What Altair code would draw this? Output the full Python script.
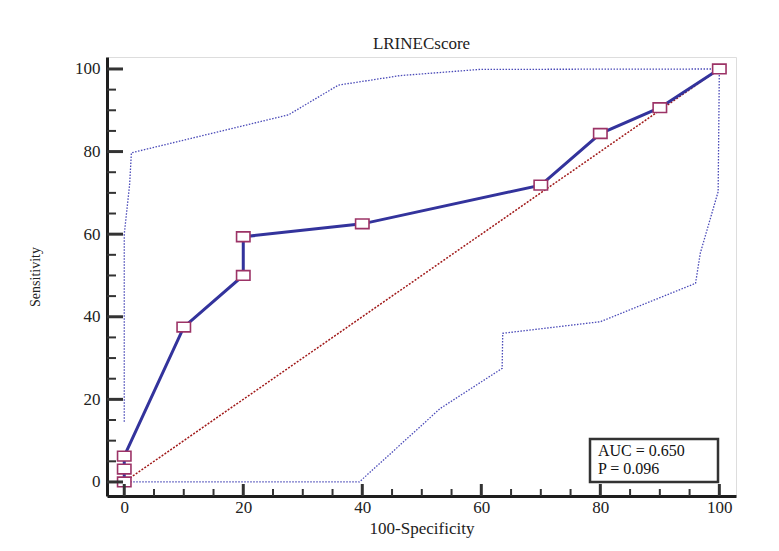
import altair as alt
import pandas as pd

# ROC curve points (100-Specificity, Sensitivity)
roc_x = [0, 0, 0, 10, 20, 20, 40, 70, 80, 90, 100]
roc_y = [0, 3.125, 6.25, 37.5, 50, 59.375, 62.5, 71.875, 84.375, 90.625, 100]

# Confidence bounds
upper_x = [0, 0, 0.9, 1.2, 27.6, 36.0, 46.4, 59.8, 100]
upper_y = [14.6, 60, 72, 79.7, 88.9, 96.1, 98.4, 99.9, 100]
lower_x = [0, 39.5, 53.1, 63.5, 63.6, 80.0, 96.0, 96.8, 99.8, 100]
lower_y = [0, 0, 17.8, 27.5, 36.0, 38.8, 48.1, 55.4, 70.3, 100]

# Reference (diagonal) line
diag_x = [0, 100]
diag_y = [0, 100]

major_ticks = [0, 20, 40, 60, 80, 100]
minor_ticks = [v for v in range(0, 101, 5) if v % 20 != 0]

box_lines = ["AUC = 0.650", "P = 0.096"]
chart_title = "LRINECscore"
x_title = "100-Specificity"
y_title = "Sensitivity"

W, H = 629, 439
SERIF = "Liberation Serif"

xscale = alt.Scale(domain=[-2.9, 102.8], nice=False, zero=False)
yscale = alt.Scale(domain=[-3.4, 102.9], nice=False, zero=False)

roc_df = pd.DataFrame({"x": roc_x, "y": roc_y, "i": range(len(roc_x))})
up_df = pd.DataFrame({"x": upper_x, "y": upper_y, "i": range(len(upper_x))})
lo_df = pd.DataFrame({"x": lower_x, "y": lower_y, "i": range(len(lower_x))})
dg_df = pd.DataFrame({"x": diag_x, "y": diag_y, "i": range(len(diag_x))})
maj_df = pd.DataFrame({"x": major_ticks})
min_df = pd.DataFrame({"x": minor_ticks})
box_df = pd.DataFrame({"t": box_lines})

x_axis = alt.Axis(values=major_ticks, ticks=False, tickSize=0, grid=False,
                  domainWidth=3, domainColor="#1e1e1e",
                  labelFont=SERIF, labelFontSize=17, labelColor="#222",
                  labelPadding=3, labelFlush=False,
                  title=x_title, titleFont=SERIF, titleFontSize=17,
                  titleFontWeight="normal", titleColor="#222",
                  titleY=32, titleBaseline="middle")
y_axis = alt.Axis(values=major_ticks, ticks=False, tickSize=0, grid=False,
                  domainWidth=3, domainColor="#1e1e1e",
                  labelFont=SERIF, labelFontSize=17, labelColor="#222",
                  labelPadding=7, labelFlush=False,
                  title=y_title, titleFont=SERIF, titleFontSize=14,
                  titleFontWeight="normal", titleColor="#222",
                  titleX=-72, titleY=H / 2, titleBaseline="middle", titleAngle=-90)

X = lambda f="x": alt.X(f"{f}:Q", scale=xscale, axis=None)
Y = lambda f="y": alt.Y(f"{f}:Q", scale=yscale, axis=None)

base_axes = alt.Chart(dg_df).mark_line(
    color="#a01818", strokeWidth=1.5, strokeDash=[2, 1.5]
).encode(
    x=alt.X("x:Q", scale=xscale, axis=x_axis),
    y=alt.Y("y:Q", scale=yscale, axis=y_axis),
    order="i:Q",
)

def bound(df):
    return alt.Chart(df).mark_line(
        color="#4a4ab8", strokeWidth=1.3, strokeDash=[1.5, 1.5]
    ).encode(x=X(), y=Y(), order="i:Q")

roc_line = alt.Chart(roc_df).mark_line(color="#33339c", strokeWidth=3).encode(
    x=X(), y=Y(), order="i:Q")

roc_pts = alt.Chart(roc_df).mark_point(
    shape="M-1,-0.72H1V0.72H-1Z", size=180, filled=True, fill="white",
    stroke="#9c3366", strokeWidth=1.6, opacity=1
).encode(x=X(), y=Y())

ytick_major = alt.Chart(maj_df).mark_rule(color="#333", strokeWidth=3).encode(
    y=Y("x"), x=alt.value(0), x2=alt.value(16))
ytick_minor = alt.Chart(min_df).mark_rule(color="#333", strokeWidth=2).encode(
    y=Y("x"), x=alt.value(0), x2=alt.value(9))
xtick_major = alt.Chart(maj_df).mark_rule(color="#333", strokeWidth=3).encode(
    x=X("x"), y=alt.value(H), y2=alt.value(H - 12))
xtick_minor = alt.Chart(min_df).mark_rule(color="#333", strokeWidth=2).encode(
    x=X("x"), y=alt.value(H), y2=alt.value(H - 7))

box = alt.Chart(box_df.head(1)).mark_rect(
    fill="white", stroke="#333", strokeWidth=2.5
).encode(x=alt.value(483), x2=alt.value(611), y=alt.value(382), y2=alt.value(425))

box_text1 = alt.Chart(box_df.head(1)).mark_text(
    align="left", baseline="alphabetic", font=SERIF, fontSize=16, color="#111"
).encode(text="t:N", x=alt.value(491), y=alt.value(399))
box_text2 = alt.Chart(box_df.tail(1)).mark_text(
    align="left", baseline="alphabetic", font=SERIF, fontSize=16, color="#111"
).encode(text="t:N", x=alt.value(491), y=alt.value(417))

chart = alt.layer(
    base_axes, bound(up_df), bound(lo_df), roc_line, roc_pts,
    ytick_major, ytick_minor, xtick_major, xtick_minor, box, box_text1, box_text2
).resolve_axis(x="independent", y="independent").properties(
    width=W, height=H,
    title=alt.TitleParams(chart_title, font=SERIF, fontSize=17, fontWeight="normal",
                          color="#222", anchor="middle", offset=4),
    autosize=alt.AutoSizeParams(type="none"),
    padding={"left": 99, "top": 49, "right": 35, "bottom": 50},
).configure_view(strokeWidth=0, stroke="transparent").configure(background="white")

chart.save("out.html", embed_options={"renderer": "svg", "actions": False})
